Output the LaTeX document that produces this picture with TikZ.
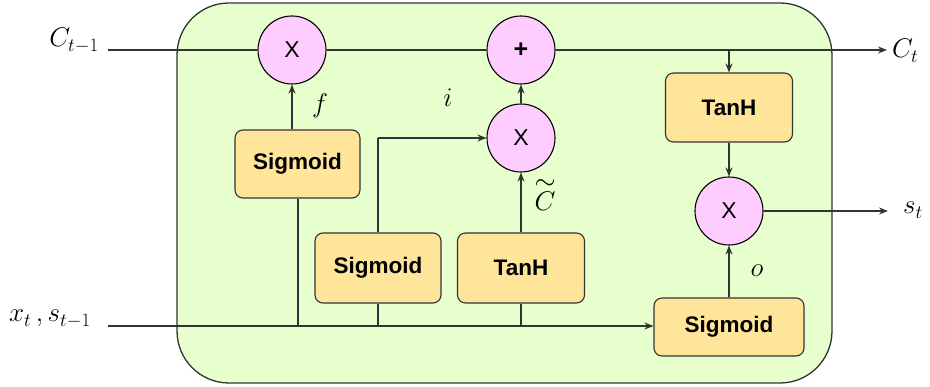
\RequirePackage{fix-cm}
\documentclass[tikz,border=0pt]{standalone}
\usepackage{amsmath}
\usepackage{fontspec}
\newfontfamily\labelfont{Liberation Sans}
\usetikzlibrary{arrows.meta}
\definecolor{cellgreen}{HTML}{E6FFCC}
\definecolor{oppink}{HTML}{FFCCFF}
\definecolor{gateyellow}{HTML}{FFE599}
\definecolor{edgegray}{HTML}{333333}
\begin{document}
\begin{tikzpicture}[x=1pt,y=-1pt,
  gatebox/.style={draw=edgegray,line width=1.1pt,fill=gateyellow,rounded corners=8pt,
    minimum width=126pt,minimum height=70pt,inner sep=0pt,
    font=\labelfont\bfseries\fontsize{22.5}{25}\selectfont},
  opcirc/.style={draw=black,line width=1.1pt,fill=oppink,circle,minimum size=68pt,inner sep=0pt,
    font=\labelfont\fontsize{23}{25}\selectfont},
  wire/.style={draw=edgegray,line width=1.4pt},
  arr/.style={wire,-{Stealth[length=9pt,width=7pt]}},
  mlabel/.style={inner sep=0pt,font=\fontsize{27}{32}\selectfont}]
\useasboundingbox (0,0) rectangle (930,387);
% outer cell
\draw[draw=edgegray,line width=1.3pt,fill=cellgreen,rounded corners=52pt] (177,3) rectangle (832,383);
% gates
\node[gatebox,minimum width=125pt,minimum height=68pt] (sig1) at (297.5,164) {Sigmoid};
\node[gatebox] (sig2) at (378,268) {Sigmoid};
\node[gatebox,minimum width=127pt] (tanh1) at (521,268) {TanH};
\node[gatebox,minimum width=150pt,minimum height=58pt] (sig3) at (729,327) {Sigmoid};
\node[gatebox,minimum width=127pt,minimum height=69pt] (tanh2) at (729,107.5) {TanH};
% operators
\node[opcirc] (mul1) at (292,50) {X};
\node[opcirc,font=\labelfont\bfseries\fontsize{25}{27}\selectfont] (add) at (521,50) {+};
\node[opcirc] (mul2) at (521,138) {X};
\node[opcirc] (mul3) at (729,211) {X};
% endpoints
\coordinate (cin) at (108,50);
\coordinate (cout) at (887,50);
\coordinate (xin) at (108,326);
\coordinate (sout) at (888,211);
\coordinate (tap) at (729,50);
\coordinate (b1) at (298,326);
\coordinate (b2) at (378,326);
\coordinate (b3) at (521,326);
\coordinate (k2) at (378,138);
% cell-state line
\draw[wire] (cin) -- (mul1.west);
\draw[wire] (mul1.east) -- (add.west);
\draw[arr] (add.east) -- (cout);
\draw[arr] (tap) -- (tanh2.north);
% gate connections
\draw[arr] (sig1.north -| mul1) -- (mul1.south);
\draw[wire] (sig1.south -| b1) -- (b1);
\draw[wire] (sig2.north) -- (k2);
\draw[arr] (k2) -- (mul2.west);
\draw[wire] (sig2.south) -- (b2);
\draw[arr] (tanh1.north) -- (mul2.south);
\draw[wire] (tanh1.south) -- (b3);
\draw[arr] (mul2.north) -- (add.south);
\draw[arr] (xin) -- (xin -| sig3.west);
\draw[arr] (sig3.north -| mul3) -- (mul3.south);
\draw[arr] (tanh2.south -| mul3) -- (mul3.north);
\draw[arr] (mul3.east) -- (sout);
% labels
\node[mlabel,anchor=base east] (lcin) at (99,47) {$C_{t-1}$};
\node[mlabel,anchor=base west] (lcout) at (892,58) {$C_t$};
\node[mlabel,anchor=base west] (lsout) at (903,214) {$s_t$};
\node[mlabel,anchor=base west] (lxin) at (9,322) {$x_t\,, s_{t-1}$};
\node[mlabel,anchor=base] (lf) at (320,113) {$f$};
\node[mlabel,anchor=base] (li) at (448,107) {$i$};
\node[mlabel,anchor=base] (lc) at (545,211) {$\overset{\raisebox{-7pt}{$\textstyle\sim$}}{C}$};
\node[mlabel,anchor=base] (lo) at (757,277) {$o$};
\end{tikzpicture}
\end{document}
